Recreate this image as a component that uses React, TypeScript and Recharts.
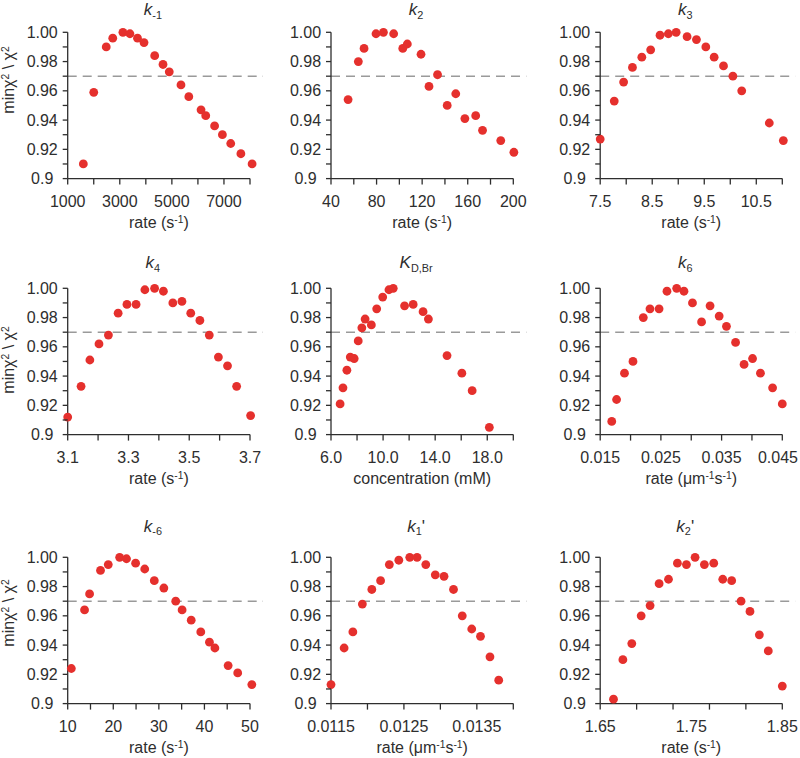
import React from 'react';
import { ScatterChart, Scatter, XAxis, YAxis, ReferenceLine } from 'recharts';

const FONT = '"Liberation Sans", Arial, Helvetica, sans-serif';
const INK = '#2e2e2e';
const RED = '#e5302d';
const DASH = '#9a9a9a';

// shared y axis
const yTicks = [0.9, 0.91, 0.92, 0.93, 0.94, 0.95, 0.96, 0.97, 0.98, 0.99, 1.0];
const yTickLabels = ['0.9', '', '0.92', '', '0.94', '', '0.96', '', '0.98', '', '1.00'];
const threshold = 0.97;

// k-1
const kM1Rate = [1600, 2000, 2480, 2730, 3120, 3390, 3680, 3930, 4340, 4660, 4900, 5350, 5650, 6120, 6300, 6640, 6940, 7260, 7650, 8080];
const kM1Fit = [0.910, 0.959, 0.990, 0.996, 1.000, 0.999, 0.996, 0.993, 0.984, 0.978, 0.973, 0.964, 0.956, 0.947, 0.943, 0.936, 0.930, 0.924, 0.917, 0.910];
const kM1Ticks = [1000, 2000, 3000, 4000, 5000, 6000, 7000, 8000];
const kM1LabelVals = [1000, 3000, 5000, 7000];
const kM1LabelText = ['1000', '3000', '5000', '7000'];

// k2
const k2Rate = [55, 64, 69, 79.5, 86, 95, 103, 107, 119, 126, 133.5, 142, 149.5, 157.5, 167, 173, 189, 200.5];
const k2Fit = [0.954, 0.980, 0.989, 0.999, 1.000, 0.999, 0.989, 0.992, 0.985, 0.963, 0.971, 0.950, 0.958, 0.941, 0.943, 0.933, 0.926, 0.918];
const k2Ticks = [40, 60, 80, 100, 120, 140, 160, 180, 200];
const k2LabelVals = [40, 80, 120, 160, 200];
const k2LabelText = ['40', '80', '120', '160', '200'];

// k3
const k3Rate = [7.5, 7.77, 7.95, 8.12, 8.3, 8.47, 8.65, 8.81, 8.96, 9.17, 9.35, 9.53, 9.69, 9.87, 10.05, 10.22, 10.75, 11.02];
const k3Fit = [0.927, 0.953, 0.966, 0.976, 0.983, 0.988, 0.998, 0.999, 1.000, 0.997, 0.995, 0.990, 0.983, 0.977, 0.970, 0.960, 0.938, 0.926];
const k3Ticks = [7.5, 8, 8.5, 9, 9.5, 10, 10.5, 11];
const k3LabelVals = [7.5, 8.5, 9.5, 10.5];
const k3LabelText = ['7.5', '8.5', '9.5', '10.5'];

// k4
const k4Rate = [3.1, 3.144, 3.173, 3.203, 3.234, 3.266, 3.295, 3.325, 3.354, 3.386, 3.415, 3.446, 3.476, 3.505, 3.535, 3.566, 3.596, 3.626, 3.656, 3.702];
const k4Fit = [0.912, 0.933, 0.951, 0.962, 0.968, 0.983, 0.989, 0.989, 0.999, 1.000, 0.998, 0.990, 0.991, 0.983, 0.978, 0.968, 0.953, 0.947, 0.933, 0.913];
const k4Ticks = [3.1, 3.2, 3.3, 3.4, 3.5, 3.6, 3.7];
const k4LabelVals = [3.1, 3.3, 3.5, 3.7];
const k4LabelText = ['3.1', '3.3', '3.5', '3.7'];

// K D,Br
const kdConc = [6.7, 6.92, 7.22, 7.48, 7.78, 8.09, 8.37, 8.62, 9.1, 9.51, 9.97, 10.45, 10.78, 11.65, 12.31, 13.07, 13.48, 14.91, 16.05, 16.84, 18.16];
const kdFit = [0.921, 0.932, 0.944, 0.953, 0.952, 0.964, 0.973, 0.979, 0.975, 0.986, 0.994, 0.999, 1.000, 0.988, 0.989, 0.984, 0.979, 0.954, 0.942, 0.930, 0.905];
const kdTicks = [6, 8, 10, 12, 14, 16, 18, 20];
const kdLabelVals = [6, 10, 14, 18];
const kdLabelText = ['6.0', '10.0', '14.0', '18.0'];

// k6
const k6Rate = [0.0169, 0.0177, 0.019, 0.0204, 0.0221, 0.0232, 0.0247, 0.026, 0.0276, 0.0288, 0.0302, 0.0317, 0.0331, 0.0346, 0.0358, 0.0373, 0.0387, 0.0401, 0.0414, 0.0434, 0.045];
const k6Fit = [0.909, 0.924, 0.942, 0.950, 0.980, 0.986, 0.986, 0.998, 1.000, 0.998, 0.990, 0.977, 0.988, 0.981, 0.974, 0.963, 0.948, 0.952, 0.942, 0.932, 0.921];
const k6Ticks = [0.015, 0.02, 0.025, 0.03, 0.035, 0.04, 0.045];
const k6LabelVals = [0.015, 0.025, 0.035, 0.045];
const k6LabelText = ['0.015', '0.025', '0.035', '0.045'];

// k-6
const kM6Rate = [10.8, 13.7, 14.8, 17.2, 18.9, 21.4, 22.9, 24.9, 26.9, 29.0, 31.1, 33.7, 35.1, 37.1, 39.2, 41.1, 42.3, 45.2, 47.3, 50.4];
const kM6Fit = [0.924, 0.964, 0.975, 0.991, 0.995, 1.000, 0.999, 0.996, 0.992, 0.984, 0.979, 0.970, 0.964, 0.957, 0.949, 0.942, 0.938, 0.926, 0.921, 0.913];
const kM6Ticks = [10, 15, 20, 25, 30, 35, 40, 45, 50];
const kM6LabelVals = [10, 20, 30, 40, 50];
const kM6LabelText = ['10', '20', '30', '40', '50'];

// k1'
const k1pRate = [0.0115, 0.01168, 0.0118, 0.01193, 0.01206, 0.01218, 0.0123, 0.01243, 0.01258, 0.01268, 0.0128, 0.01293, 0.01305, 0.01318, 0.0133, 0.01343, 0.01355, 0.01368, 0.0138];
const k1pFit = [0.913, 0.938, 0.949, 0.968, 0.978, 0.984, 0.995, 0.998, 1.000, 1.000, 0.995, 0.988, 0.987, 0.978, 0.960, 0.951, 0.946, 0.932, 0.916];
const k1pTicks = [0.0115, 0.012, 0.0125, 0.013, 0.0135, 0.014];
const k1pLabelVals = [0.0115, 0.0125, 0.0135];
const k1pLabelText = ['0.0115', '0.0125', '0.0135'];

// k2'
const k2pRate = [1.6646, 1.6749, 1.6847, 1.695, 1.7048, 1.7147, 1.725, 1.7348, 1.7447, 1.7542, 1.7644, 1.7747, 1.7846, 1.7944, 1.8047, 1.8145, 1.8248, 1.8346, 1.85];
const k2pFit = [0.903, 0.930, 0.941, 0.960, 0.967, 0.982, 0.985, 0.996, 0.995, 1.000, 0.995, 0.996, 0.985, 0.984, 0.970, 0.963, 0.947, 0.936, 0.912];
const k2pTicks = [1.65, 1.69, 1.73, 1.77, 1.81, 1.85];
const k2pLabelVals = [1.65, 1.75, 1.85];
const k2pLabelText = ['1.65', '1.75', '1.85'];

// page layout (px)
const COLS = [
  { left: 0, width: 265, axisX: 67.7, axisEnd: 250 },
  { left: 265, width: 265, axisX: 331, axisEnd: 513.3 },
  { left: 530, width: 270, axisX: 600.2, axisEnd: 782.3 },
];
const ROWS = [
  { top: 0, plotTop: 32.3, titleBase: 15.5, yTitleY: 80 },
  { top: 252, plotTop: 288.3, titleBase: 268.5, yTitleY: 360 },
  { top: 505, plotTop: 557.3, titleBase: 532, yTitleY: 613 },
];
const PLOT_H = 146.3;
const CHART_H = 250;
const DASH_OVERHANG = 13;
const TICK_FONT = 16;

const near = (a: number, b: number, span: number) => Math.abs(a - b) < span * 1e-6;

// rough Arial width, only used to keep the last label inside the page
const textWidth = (s: string) =>
  s.split('').reduce((w, ch) => w + (ch === '.' ? 0.278 : 0.556), 0) * TICK_FONT;

const Sub = ({ children }: { children: React.ReactNode }) => (
  <span style={{ fontSize: '0.64em', fontStyle: 'normal', position: 'relative', top: '0.35em' }}>{children}</span>
);
const Sup = ({ children }: { children: React.ReactNode }) => (
  <span style={{ fontSize: '0.64em', position: 'relative', top: '-0.5em' }}>{children}</span>
);

const rateS = <>rate (s<Sup>-1</Sup>)</>;
const rateUm = <>rate (μm<Sup>-1</Sup>s<Sup>-1</Sup>)</>;

const PANELS = [
  { title: <><i>k</i><Sub>-1</Sub></>, xTitle: rateS, xs: kM1Rate, ys: kM1Fit, range: [1000, 8000], marks: kM1Ticks, labelVals: kM1LabelVals, labelText: kM1LabelText },
  { title: <><i>k</i><Sub>2</Sub></>, xTitle: rateS, xs: k2Rate, ys: k2Fit, range: [40, 200], marks: k2Ticks, labelVals: k2LabelVals, labelText: k2LabelText },
  { title: <><i>k</i><Sub>3</Sub></>, xTitle: rateS, xs: k3Rate, ys: k3Fit, range: [7.5, 11], marks: k3Ticks, labelVals: k3LabelVals, labelText: k3LabelText },
  { title: <><i>k</i><Sub>4</Sub></>, xTitle: rateS, xs: k4Rate, ys: k4Fit, range: [3.1, 3.7], marks: k4Ticks, labelVals: k4LabelVals, labelText: k4LabelText },
  { title: <><i>K</i><Sub>D,Br</Sub></>, xTitle: <>concentration (mM)</>, xs: kdConc, ys: kdFit, range: [6, 20], marks: kdTicks, labelVals: kdLabelVals, labelText: kdLabelText },
  { title: <><i>k</i><Sub>6</Sub></>, xTitle: rateUm, xs: k6Rate, ys: k6Fit, range: [0.015, 0.045], marks: k6Ticks, labelVals: k6LabelVals, labelText: k6LabelText },
  { title: <><i>k</i><Sub>-6</Sub></>, xTitle: rateS, xs: kM6Rate, ys: kM6Fit, range: [10, 50], marks: kM6Ticks, labelVals: kM6LabelVals, labelText: kM6LabelText },
  { title: <><i>k</i><Sub>1</Sub>'</>, xTitle: rateUm, xs: k1pRate, ys: k1pFit, range: [0.0115, 0.014], marks: k1pTicks, labelVals: k1pLabelVals, labelText: k1pLabelText },
  { title: <><i>k</i><Sub>2</Sub>'</>, xTitle: rateS, xs: k2pRate, ys: k2pFit, range: [1.65, 1.85], marks: k2pTicks, labelVals: k2pLabelVals, labelText: k2pLabelText },
];

const XTick = (props: any) => {
  const { x, y, payload, spec, maxX } = props;
  const span = spec.range[1] - spec.range[0];
  const v = payload.value;
  const isMark = spec.marks.some((m: number) => near(m, v, span));
  const li = spec.labelVals.findIndex((m: number) => near(m, v, span));
  let tx = x;
  if (li >= 0) {
    const half = textWidth(spec.labelText[li]) / 2;
    if (tx + half > maxX) tx = maxX - half;
  }
  return (
    <g>
      {isMark && <line x1={x} x2={x} y1={y} y2={y + 6} stroke={INK} strokeWidth={1.3} />}
      {li >= 0 && (
        <text x={tx} y={y + 28} textAnchor="middle" fontSize={TICK_FONT} fill={INK} fontFamily={FONT}>
          {spec.labelText[li]}
        </text>
      )}
    </g>
  );
};

const YTick = (props: any) => {
  const { x, y, payload } = props;
  const i = yTicks.findIndex((t) => near(t, payload.value, 0.1));
  return (
    <g>
      <line x1={x - 5} x2={x} y1={y} y2={y} stroke={INK} strokeWidth={1.3} />
      {i >= 0 && yTickLabels[i] && (
        <text x={x - 25.5} y={y + 5.5} textAnchor="middle" fontSize={TICK_FONT} fill={INK} fontFamily={FONT}>
          {yTickLabels[i]}
        </text>
      )}
    </g>
  );
};

const Dot = (props: any) => <circle cx={props.cx} cy={props.cy} r={4.4} fill={RED} />;

function Panel({ spec, col, row }: { spec: any; col: number; row: number }) {
  const c = COLS[col];
  const r = ROWS[row];
  const [lo, hi] = spec.range;
  const span = hi - lo;
  const dashEnd = c.axisEnd + DASH_OVERHANG;
  const domHi = lo + (span * (dashEnd - c.axisX)) / (c.axisEnd - c.axisX);
  const mTop = r.plotTop - r.top;
  const data = spec.xs.map((x: number, i: number) => ({ x, y: spec.ys[i] }));
  const extraLabels = spec.labelVals.filter((v: number) => !spec.marks.some((m: number) => near(m, v, span)));
  const allTicks = [...spec.marks, ...extraLabels].sort((a, b) => a - b);
  const axisMid = (c.axisX + c.axisEnd) / 2;
  const plotBottom = r.plotTop + PLOT_H;

  return (
    <>
      <div style={{ position: 'absolute', left: c.left, top: r.top }}>
        <ScatterChart
          width={c.width}
          height={CHART_H}
          margin={{ top: mTop, right: c.left + c.width - dashEnd, bottom: 0, left: 0 }}
        >
          <XAxis
            type="number"
            dataKey="x"
            domain={[lo, domHi]}
            ticks={allTicks}
            interval={0}
            axisLine={false}
            tickLine={false}
            tickSize={0}
            tickMargin={0}
            height={CHART_H - mTop - PLOT_H}
            tick={(p: any) => <XTick {...p} spec={spec} maxX={c.width - 2} />}
          />
          <YAxis
            type="number"
            dataKey="y"
            domain={[0.9, 1.0]}
            ticks={yTicks}
            interval={0}
            width={c.axisX - c.left}
            tickLine={false}
            tickSize={0}
            tickMargin={0}
            axisLine={{ stroke: INK, strokeWidth: 1.3 }}
            tick={(p: any) => <YTick {...p} />}
          />
          <ReferenceLine y={threshold} stroke={DASH} strokeWidth={1.5} strokeDasharray="9 6" />
          <ReferenceLine segment={[{ x: lo, y: 0.9 }, { x: hi, y: 0.9 }]} stroke={INK} strokeWidth={1.3} />
          <Scatter data={data} isAnimationActive={false} shape={Dot} />
        </ScatterChart>
      </div>
      <div
        style={{
          position: 'absolute', left: axisMid - 6, top: r.titleBase - 14.4, transform: 'translateX(-50%)',
          fontSize: 17, lineHeight: '17px', whiteSpace: 'nowrap', color: INK,
        }}
      >
        {spec.title}
      </div>
      <div
        style={{
          position: 'absolute', left: axisMid, top: plotBottom + 36.5, transform: 'translateX(-50%)',
          fontSize: 16, lineHeight: '16px', whiteSpace: 'nowrap', color: INK,
        }}
      >
        {spec.xTitle}
      </div>
      {col === 0 && (
        <div
          style={{
            position: 'absolute', left: 10, top: r.yTitleY, transform: 'translate(-50%, -50%) rotate(-90deg)',
            fontSize: 16, lineHeight: '16px', whiteSpace: 'nowrap', color: INK,
          }}
        >
          minχ<Sup>2</Sup> \ χ<Sup>2</Sup>
        </div>
      )}
    </>
  );
}

export default function App() {
  return (
    <div
      style={{
        position: 'absolute', left: 0, top: 0, width: 800, height: 758, background: '#fff',
        overflow: 'hidden', fontFamily: FONT,
      }}
    >
      {PANELS.map((spec, i) => (
        <Panel key={i} spec={spec} col={i % 3} row={Math.floor(i / 3)} />
      ))}
    </div>
  );
}
